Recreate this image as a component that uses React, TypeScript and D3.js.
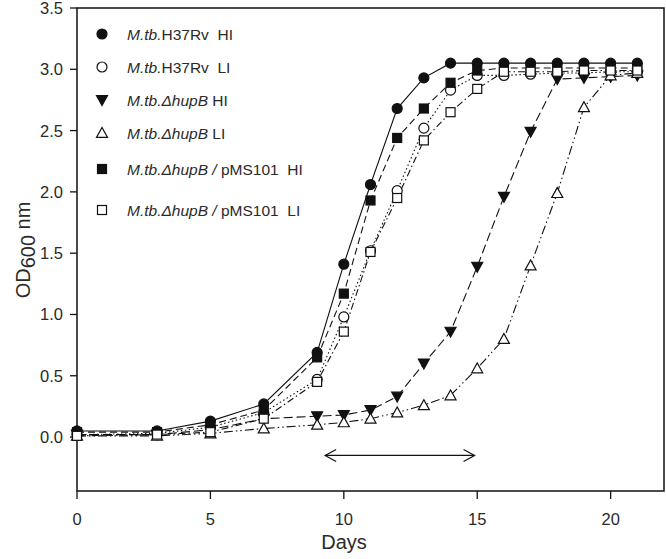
import React from "react";
import * as d3 from "d3";

const days = [0, 3, 5, 7, 9, 10, 11, 12, 13, 14, 15, 16, 17, 18, 19, 20, 21];

const h37rvHI = [0.05, 0.05, 0.13, 0.27, 0.69, 1.41, 2.06, 2.68, 2.93, 3.05, 3.05, 3.05, 3.05, 3.05, 3.05, 3.05, 3.05];
const h37rvLI = [0.02, 0.03, 0.08, 0.2, 0.47, 0.98, 1.52, 2.01, 2.52, 2.83, 2.95, 2.95, 2.96, 2.97, 2.97, 2.98, 2.98];
const hupbHI = [0.02, 0.02, 0.06, 0.15, 0.17, 0.18, 0.22, 0.33, 0.6, 0.86, 1.39, 1.96, 2.49, 2.92, 2.93, 2.94, 2.95];
const hupbLI = [0.01, 0.01, 0.03, 0.07, 0.1, 0.12, 0.15, 0.2, 0.26, 0.34, 0.56, 0.8, 1.4, 1.99, 2.69, 2.95, 2.97];
const pmsHI = [0.04, 0.04, 0.1, 0.22, 0.65, 1.17, 1.93, 2.44, 2.68, 2.89, 2.99, 3.01, 3.01, 3.01, 3.01, 3.01, 3.01];
const pmsLI = [0.01, 0.02, 0.04, 0.15, 0.45, 0.86, 1.51, 1.95, 2.42, 2.65, 2.84, 2.98, 2.98, 2.98, 2.99, 2.99, 2.99];

const xTicks = [0, 5, 10, 15, 20];
const yTicks = [0, 0.5, 1.0, 1.5, 2.0, 2.5, 3.0, 3.5];
const arrowDays = [9.3, 14.9];
const arrowLevel = -0.15;

type Series = {
  values: number[];
  marker: "circle" | "square" | "down" | "up";
  filled: boolean;
  dash: string;
  italic: string;
  rest: string;
};

const series: Series[] = [
  { values: h37rvHI, marker: "circle", filled: true, dash: "none", italic: "M.tb.", rest: "H37Rv  HI" },
  { values: h37rvLI, marker: "circle", filled: false, dash: "1.5,2.5", italic: "M.tb.", rest: "H37Rv  LI" },
  { values: hupbHI, marker: "down", filled: true, dash: "9,4", italic: "M.tb.ΔhupB", rest: " HI" },
  { values: hupbLI, marker: "up", filled: false, dash: "9,3,1.5,3,1.5,3", italic: "M.tb.ΔhupB", rest: " LI" },
  { values: pmsHI, marker: "square", filled: true, dash: "7,4", italic: "M.tb.ΔhupB /", rest: " pMS101  HI" },
  { values: pmsLI, marker: "square", filled: false, dash: "7,3,1.5,3", italic: "M.tb.ΔhupB /", rest: " pMS101  LI" },
];

const legendRows = [34, 67, 100, 133, 169, 210];

const W = 666;
const H = 559;
const x = d3.scaleLinear().domain([0, 22]).range([77, 664]);
const y = d3.scaleLinear().domain([-0.44, 3.5]).range([491, 8]);

const INK = "#111";
const TXT = "#2a2a2a";
const FONT = "'Liberation Sans', Arial, sans-serif";

function Marker({ kind, filled, cx, cy }: { kind: string; filled: boolean; cx: number; cy: number }) {
  const fill = filled ? INK : "#fff";
  const sw = 1.2;
  if (kind === "circle") return <circle cx={cx} cy={cy} r={5} fill={fill} stroke={INK} strokeWidth={sw} />;
  if (kind === "square")
    return <rect x={cx - 4.5} y={cy - 4.5} width={9} height={9} fill={fill} stroke={INK} strokeWidth={sw} />;
  const s = 5.5;
  const pts =
    kind === "down"
      ? `${cx - s},${cy - s * 0.8} ${cx + s},${cy - s * 0.8} ${cx},${cy + s}`
      : `${cx - s},${cy + s * 0.8} ${cx + s},${cy + s * 0.8} ${cx},${cy - s}`;
  return <polygon points={pts} fill={fill} stroke={INK} strokeWidth={sw} strokeLinejoin="miter" />;
}

export default function App() {
  const line = d3
    .line<number>()
    .x((_, i) => x(days[i]))
    .y((v) => y(v));

  const ax0 = x(arrowDays[0]);
  const ax1 = x(arrowDays[1]);
  const ay = y(arrowLevel);

  return (
    <svg
      width={W}
      height={H}
      style={{ position: "absolute", left: 0, top: 0, background: "#fff" }}
      fontFamily={FONT}
    >
      {/* frame */}
      <rect x={x(0)} y={y(3.5)} width={x(22) - x(0)} height={y(-0.44) - y(3.5)} fill="none" stroke={INK} strokeWidth={1.5} />

      {/* y ticks */}
      {yTicks.map((t) => (
        <g key={"y" + t}>
          <line x1={x(0) - 7} x2={x(0)} y1={y(t)} y2={y(t)} stroke={INK} strokeWidth={1.3} />
          <text x={x(0) - 14} y={y(t)} dy="0.36em" textAnchor="end" fontSize={16.5} fill={TXT}>
            {t.toFixed(1)}
          </text>
        </g>
      ))}

      {/* x ticks */}
      {xTicks.map((t) => (
        <g key={"x" + t}>
          <line x1={x(t)} x2={x(t)} y1={y(-0.44)} y2={y(-0.44) + 8} stroke={INK} strokeWidth={1.3} />
          <text x={x(t)} y={525} textAnchor="middle" fontSize={16.5} fill={TXT}>
            {t}
          </text>
        </g>
      ))}

      {/* axis titles */}
      <text x={344} y={549} textAnchor="middle" fontSize={20} fill={TXT}>
        Days
      </text>
      <text transform={`translate(30,250) rotate(-90)`} textAnchor="middle" fontSize={20} fill={TXT}>
        OD
        <tspan fontSize={20} dy="5">600</tspan>
        <tspan dy="-5"> nm</tspan>
      </text>

      {/* lines */}
      {series.map((s, i) => (
        <path
          key={"l" + i}
          d={line(s.values) || ""}
          fill="none"
          stroke={INK}
          strokeWidth={1.1}
          strokeDasharray={s.dash}
        />
      ))}

      {/* markers */}
      {series.map((s, i) => (
        <g key={"m" + i}>
          {s.values.map((v, j) => (
            <Marker key={j} kind={s.marker} filled={s.filled} cx={x(days[j])} cy={y(v)} />
          ))}
        </g>
      ))}

      {/* double arrow */}
      <g stroke={INK} strokeWidth={1.2} fill="none">
        <line x1={ax0} x2={ax1} y1={ay} y2={ay} />
        <polyline points={`${ax0 + 11},${ay - 6} ${ax0},${ay} ${ax0 + 11},${ay + 6}`} />
        <polyline points={`${ax1 - 11},${ay - 6} ${ax1},${ay} ${ax1 - 11},${ay + 6}`} />
      </g>

      {/* legend */}
      {series.map((s, i) => (
        <g key={"g" + i}>
          <Marker kind={s.marker} filled={s.filled} cx={102} cy={legendRows[i]} />
          <text x={127} y={legendRows[i]} dy="0.36em" fontSize={15.5} fill={TXT}>
            <tspan fontStyle="italic">{s.italic}</tspan>
            <tspan style={{ whiteSpace: "pre" }}>{s.rest}</tspan>
          </text>
        </g>
      ))}
    </svg>
  );
}
